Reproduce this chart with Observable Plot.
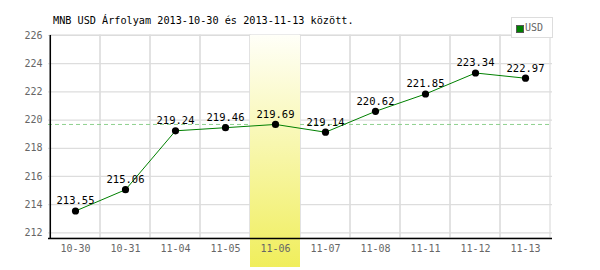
<!DOCTYPE html>
<html><head><meta charset="utf-8">
<script src="https://cdn.jsdelivr.net/npm/d3@7"></script>
<script src="https://cdn.jsdelivr.net/npm/@observablehq/plot@0.6"></script>
<style>
body{margin:0;background:#fff;}
#wrap{position:relative;width:600px;height:270px;overflow:hidden;}
#wrap svg{position:absolute;left:0;top:0;}
#title{position:absolute;left:53px;top:15px;font:10.2px "DejaVu Sans Mono",monospace;color:#000;white-space:nowrap;}
#legend{position:absolute;left:511px;top:17px;width:40px;height:19px;border:1px solid #ddd;background:#fff;font:10px "DejaVu Sans Mono",monospace;color:#666;}
#legend .sw{position:absolute;left:4px;top:7px;width:6px;height:6px;background:#008000;border:1px solid #555;}
#legend .lb{position:absolute;left:13px;top:4px;}
</style></head><body>
<div id="wrap">
<div id="title">MNB USD Árfolyam 2013-10-30 és 2013-11-13 között.</div>
<div id="legend"><span class="sw"></span><span class="lb">USD</span></div>
</div>
<script>
const dates = ["10-30","10-31","11-04","11-05","11-06","11-07","11-08","11-11","11-12","11-13"];
const usd = [213.55,215.06,219.24,219.46,219.69,219.14,220.62,221.85,223.34,222.97];
const yTicks = [212,214,216,218,220,222,224,226];
const highlightDate = "11-06";
const refValue = 219.69;
const yMin = 211.6, yMax = 226;

const data = dates.map((d,i)=>({date:d, value:usd[i]}));

const svg = Plot.plot({
  width: 600, height: 270,
  marginLeft: 48, marginRight: 48, marginTop: 35, marginBottom: 32,
  style: {background: "transparent", overflow: "visible"},
  x: {type: "band", domain: dates, padding: 0, label: null},
  y: {domain: [yMin, yMax], label: null},
  marks: [
    Plot.ruleY(yTicks, {stroke: "#ddd", strokeWidth: 1.2}),
    Plot.barY(dates, {x: d=>d, y1: yMin, y2: yMax, fill: "none", stroke: "#ddd", strokeWidth: 1.2}),
    Plot.ruleY([refValue], {stroke: "#8fd08f", strokeDasharray: "4,3"}),
    Plot.barY([highlightDate], {x: d=>d, y1: yMin, y2: yMax, fill: "url(#hlgrad)", insetBottom: -29}),
    Plot.ruleY([yMin], {stroke: "#000", strokeWidth: 1.5}),
    Plot.ruleX([dates[0]], {y1: yMin, y2: yMax, dx: -25.2, stroke: "#000", strokeWidth: 1.5}),
    Plot.axisY({ticks: yTicks, tickSize: 0, tickPadding: 6, fontSize: 10, fill: "#666", fontFamily: "DejaVu Sans Mono", label: null}),
    Plot.axisX({tickSize: 0, tickPadding: 6, fontSize: 10, fill: "#666", fontFamily: "DejaVu Sans Mono", label: null}),
    Plot.line(data, {x: "date", y: "value", stroke: "#008000", strokeWidth: 1}),
    Plot.dot(data, {x: "date", y: "value", r: 3.6, fill: "#000"}),
    Plot.text(data, {x: "date", y: "value", text: d=>d.value.toFixed(2), dy: -10, fontSize: 10.5, fill: "#000", fontFamily: "DejaVu Sans Mono"})
  ]
});
const ns = "http://www.w3.org/2000/svg";
const defs = document.createElementNS(ns, "defs");
defs.innerHTML = '<linearGradient id="hlgrad" x1="0" y1="0" x2="0" y2="1"><stop offset="0" stop-color="#fffff8"/><stop offset="1" stop-color="#f0ee5c"/></linearGradient>';
svg.insertBefore(defs, svg.firstChild);
document.getElementById("wrap").insertBefore(svg, document.getElementById("wrap").firstChild);
</script>
</body></html>
